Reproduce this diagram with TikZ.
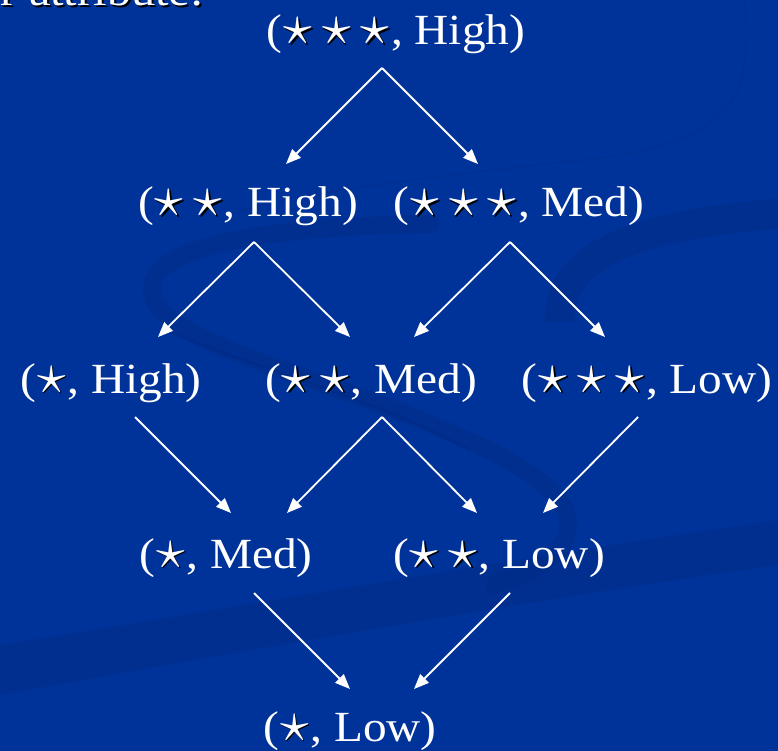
\documentclass[tikz,border=0pt]{standalone}
\usepackage{fontspec}
\setmainfont{Liberation Serif}[FakeStretch=1.1]
\usetikzlibrary{arrows.meta,calc}
\definecolor{bg}{RGB}{0,51,153}
\definecolor{sw}{RGB}{0,38,125}
\newcommand{\bigst}{\scalebox{5.7}{\fontsize{10}{12}\selectfont$\star$}}
\newcommand{\sst}{\makebox[0pt][l]{\kern1.8pt\raisebox{-1.8pt}{\textcolor{black}{\bigst}}}\bigst}
\newcommand{\sg}{\hspace{10pt}}
\newcommand{\lp}{(\kern1pt}
\newcommand{\cmm}{\kern2pt,}
\begin{document}
\begin{tikzpicture}[x=1pt,y=-1pt,
  lbl/.style={text=white,inner sep=0pt,anchor=base,font=\fontsize{43}{50}\selectfont},
  arr/.style={white,line width=1.8pt,-{Triangle[length=15pt,width=12pt]}},
  swoosh/.style={sw,opacity=0.3}]
\fill[bg] (0,0) rectangle (778,751);
\useasboundingbox (0,0) rectangle (778,751);
% background swooshes
\fill[swoosh] (0,645) .. controls (250,605) and (500,560) .. (778,520) -- (778,565) .. controls (500,605) and (250,650) .. (0,695) -- cycle;
\draw[swoosh,line width=18pt,line cap=round] (430,224) .. controls (300,226) and (150,240) .. (152,290) .. controls (154,340) and (300,370) .. (420,420) .. controls (520,460) and (590,500) .. (562,545) .. controls (548,565) and (520,575) .. (495,585);
\draw[sw,opacity=0.4,line width=2pt] (165,330) .. controls (260,370) and (380,400) .. (470,450);
\draw[swoosh,line width=30pt] (800,212) .. controls (650,222) and (556,250) .. (560,322);
\draw[sw,opacity=0.2,line width=2pt] (745,0) .. controls (752,90) and (740,140) .. (600,158) .. controls (450,175) and (300,190) .. (230,215);
% partial title text
\node[lbl,anchor=base east,text=black,font=\fontsize{44}{52}\selectfont] (tsh) at (206,8) {r attribute:};
\node[lbl,anchor=base east,font=\fontsize{44}{52}\selectfont] (t0) at (204,6) {r attribute:};
% lattice nodes
\node[lbl] (n1)  at (396,45)  {\lp\sst\sg\sst\sg\sst\cmm{} High)};
\node[lbl] (n21) at (248,217) {\lp\sst\sg\sst\cmm{} High)};
\node[lbl] (n22) at (519,217) {\lp\sst\sg\sst\sg\sst\cmm{} Med)};
\node[lbl] (n31) at (111,393) {\lp\sst\cmm{} High)};
\node[lbl] (n32) at (371,393) {\lp\sst\sg\sst\cmm{} Med)};
\node[lbl] (n33) at (647,393) {\lp\sst\sg\sst\sg\sst\cmm{} Low)};
\node[lbl] (n41) at (226,568) {\lp\sst\cmm{} Med)};
\node[lbl] (n42) at (499,568) {\lp\sst\sg\sst\cmm{} Low)};
\node[lbl] (n51) at (350,741) {\lp\sst\cmm{} Low)};
% arrows
\draw[arr] ($(n1.base)+(-14,23)$) -- ($(n21.base)+(38,-53)$);
\draw[arr] ($(n1.base)+(-14,23)$) -- ($(n22.base)+(-41,-53)$);
\draw[arr] ($(n21.base)+(6,25)$) -- ($(n31.base)+(47,-56)$);
\draw[arr] ($(n21.base)+(6,25)$) -- ($(n32.base)+(-21,-56)$);
\draw[arr] ($(n22.base)+(-9,25)$) -- ($(n32.base)+(43,-56)$);
\draw[arr] ($(n22.base)+(-9,25)$) -- ($(n33.base)+(-42,-56)$);
\draw[arr] ($(n31.base)+(24,24)$) -- ($(n41.base)+(5,-55)$);
\draw[arr] ($(n32.base)+(11,24)$) -- ($(n41.base)+(61,-55)$);
\draw[arr] ($(n32.base)+(11,24)$) -- ($(n42.base)+(-22,-55)$);
\draw[arr] ($(n33.base)+(-9,24)$) -- ($(n42.base)+(44,-55)$);
\draw[arr] ($(n41.base)+(28,25)$) -- ($(n51.base)+(0,-52)$);
\draw[arr] ($(n42.base)+(11,25)$) -- ($(n51.base)+(64,-52)$);
\end{tikzpicture}
\end{document}
